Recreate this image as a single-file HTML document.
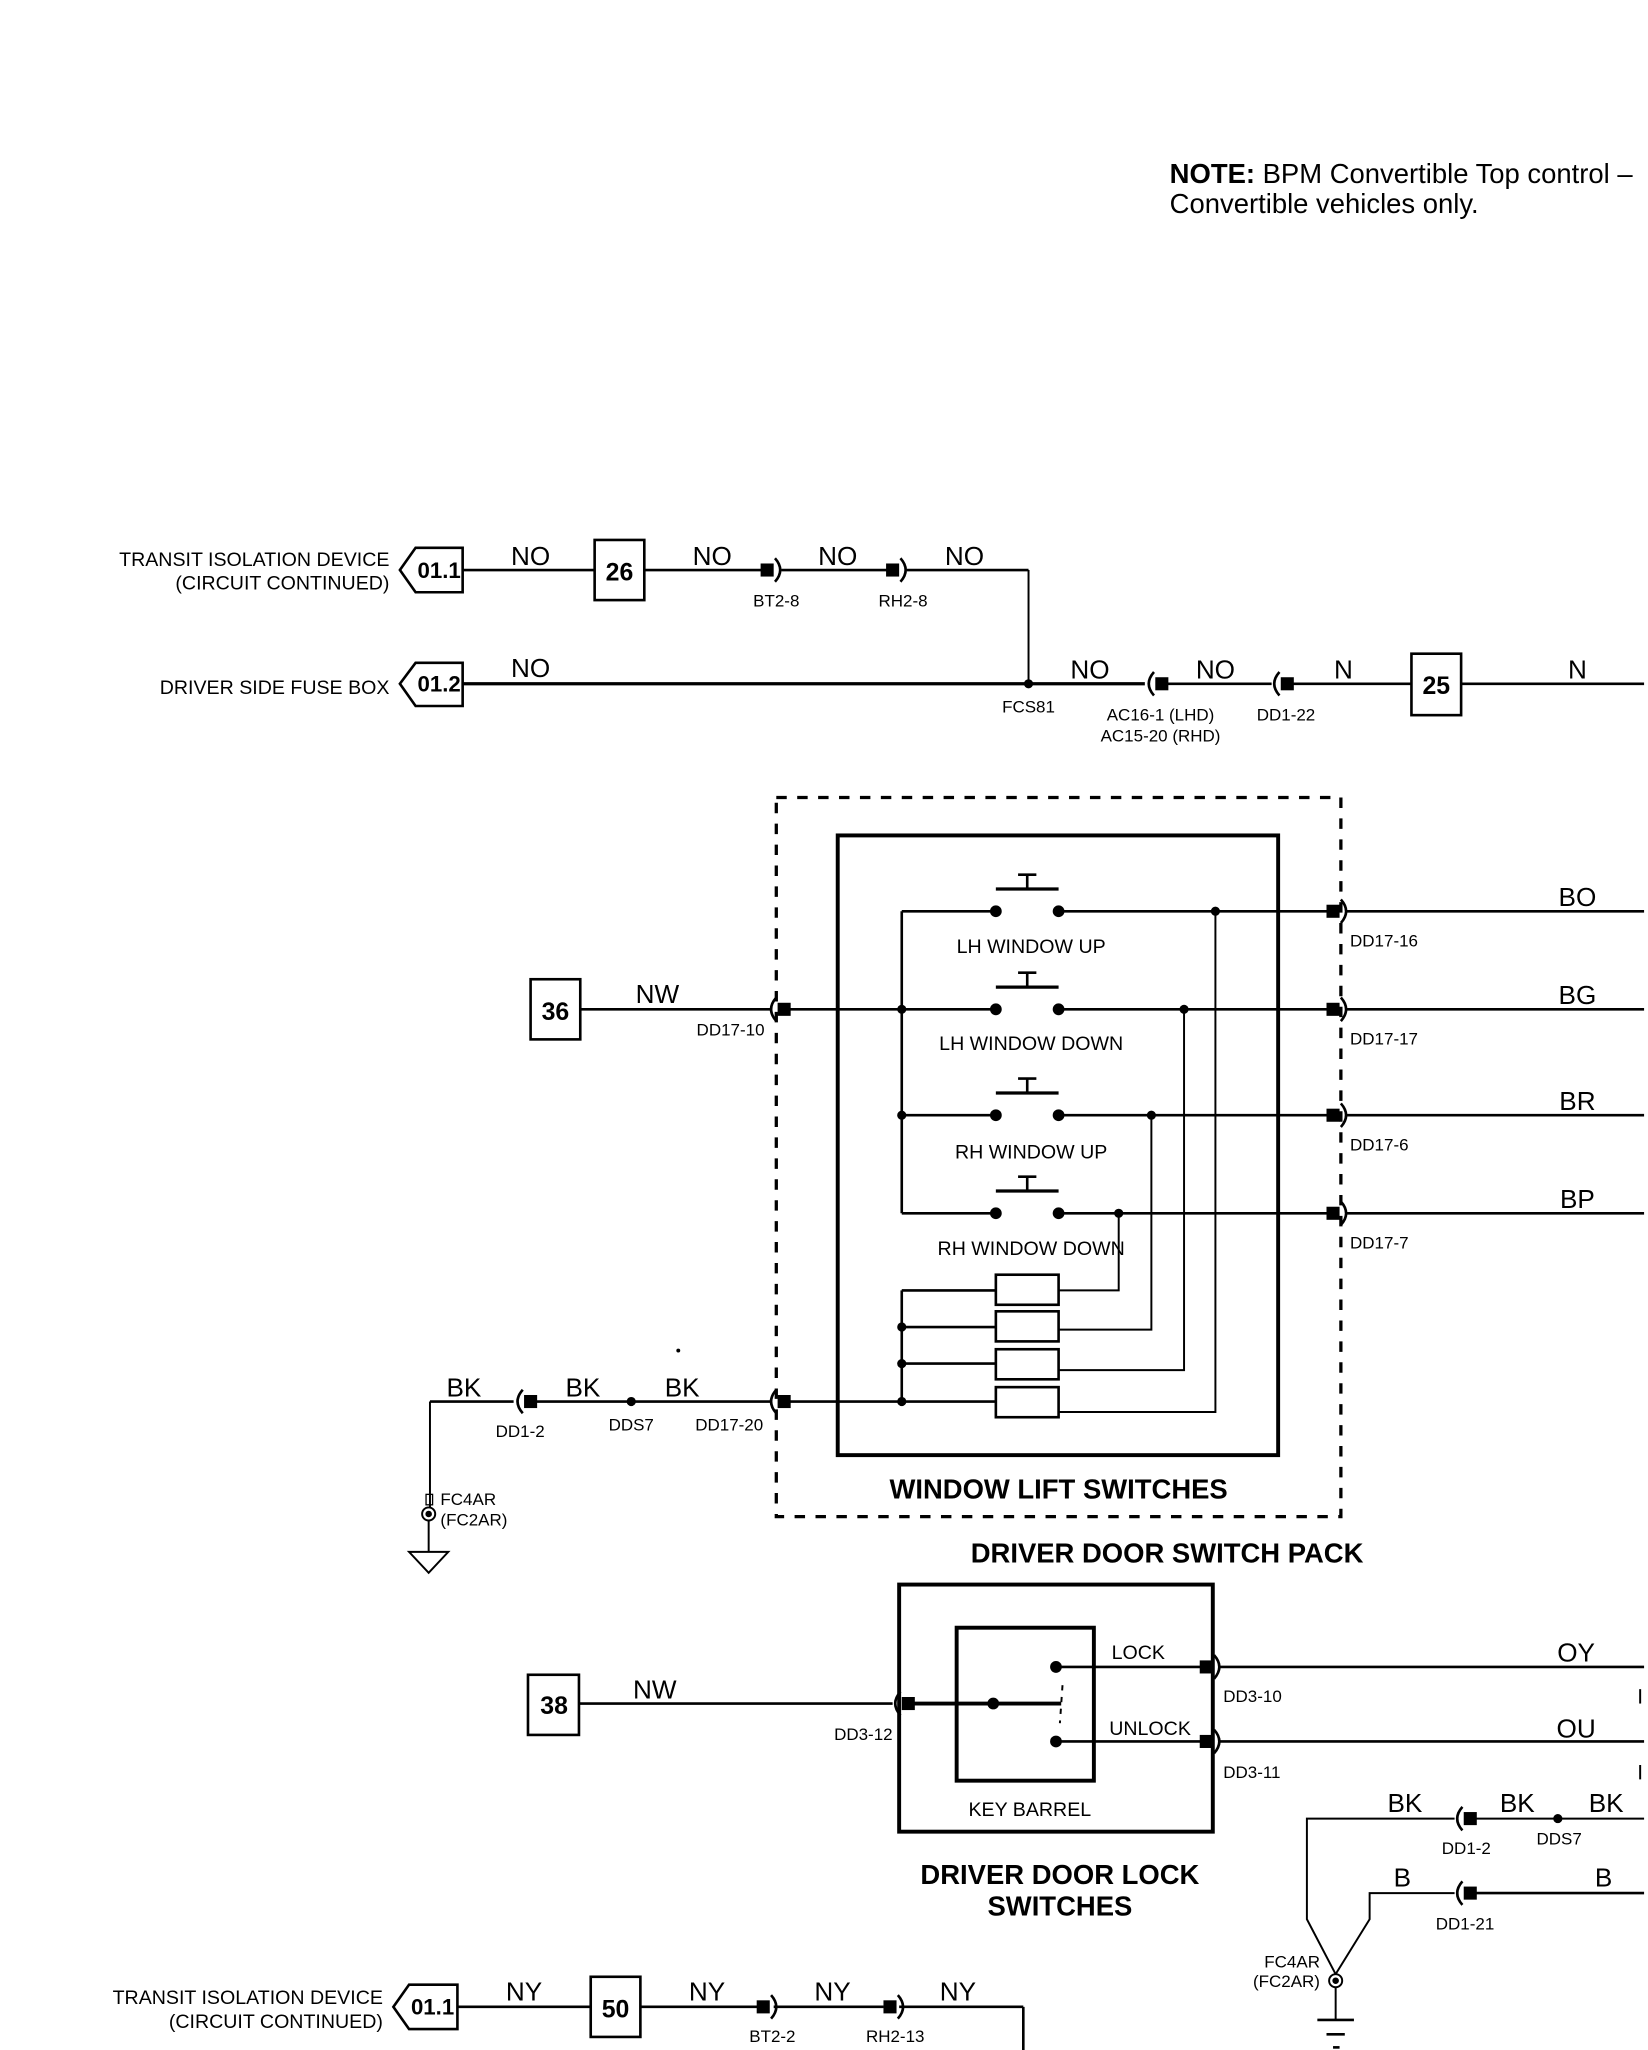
<!DOCTYPE html>
<html><head><meta charset="utf-8"><style>
html,body{margin:0;padding:0;background:#fff;}
svg{display:block;}
text{font-family:"Liberation Sans Narrow","Liberation Sans",sans-serif;fill:#000;}
.s{font-size:13px;}.m{font-size:15px;}.w{font-size:20px;}.b{font-weight:bold;}
</style></head><body>
<svg width="1648" height="2050" viewBox="0 0 1261 1568" preserveAspectRatio="none" xmlns="http://www.w3.org/2000/svg">
<defs>
<g id="cr"><rect x="-5" y="-5" width="10" height="10" fill="#000"/><path d="M6,-9 Q14,0 6,9" fill="none" stroke="#000" stroke-width="2"/></g>
<g id="cl"><rect x="-5" y="-5" width="10" height="10" fill="#000"/><path d="M-6,-9 Q-14,0 -6,9" fill="none" stroke="#000" stroke-width="2"/></g>
<g id="btn"><line x1="-24" y1="-17" x2="24" y2="-17" stroke="#000" stroke-width="2.5"/><line x1="0" y1="-17" x2="0" y2="-28" stroke="#000" stroke-width="2"/><line x1="-7" y1="-28" x2="7" y2="-28" stroke="#000" stroke-width="2"/><circle cx="-24" cy="0" r="4.5"/><circle cx="24" cy="0" r="4.5"/></g>
</defs>
<text x="895" y="140" style="font-size:21px"><tspan font-weight="bold">NOTE:</tspan> BPM Convertible Top control –</text>
<text x="895" y="163" style="font-size:21px">Convertible vehicles only.</text>

<g stroke="#000" stroke-width="2" fill="none">
<polygon points="306,436 318,419 354,419 354,453 318,453"/>
<line x1="354" y1="436" x2="455" y2="436"/>
<rect x="455" y="413" width="38" height="46"/>
<line x1="493" y1="436" x2="585" y2="436"/>
<line x1="598" y1="436" x2="681" y2="436"/>
<line x1="694" y1="436" x2="787" y2="436"/>
<line x1="787" y1="436" x2="787" y2="523" stroke-width="1.5"/>
<polygon points="306,523 318,507 354,507 354,540 318,540"/>
<line x1="354" y1="523" x2="876" y2="523" stroke-width="2.5"/>
<line x1="890" y1="523" x2="973" y2="523"/>
<line x1="985" y1="523" x2="1080" y2="523"/>
<rect x="1080" y="500" width="38" height="47"/>
<line x1="1118" y1="523" x2="1258" y2="523"/>
<rect x="594" y="610" width="432" height="550" stroke-dasharray="8,8" stroke-width="2.5"/>
<rect x="641" y="639" width="337" height="474" stroke-width="3"/>
<rect x="406" y="749" width="38" height="46"/>
<line x1="444" y1="772" x2="590" y2="772"/>
<line x1="598" y1="772" x2="762" y2="772"/>
<line x1="690" y1="697" x2="690" y2="928"/>
<line x1="690" y1="697" x2="762" y2="697"/>
<line x1="690" y1="853" x2="762" y2="853"/>
<line x1="690" y1="928" x2="762" y2="928"/>
<line x1="810" y1="697" x2="1020" y2="697"/>
<line x1="810" y1="772" x2="1020" y2="772"/>
<line x1="810" y1="853" x2="1020" y2="853"/>
<line x1="810" y1="928" x2="1020" y2="928"/>
<line x1="1030" y1="697" x2="1258" y2="697"/>
<line x1="1030" y1="772" x2="1258" y2="772"/>
<line x1="1030" y1="853" x2="1258" y2="853"/>
<line x1="1030" y1="928" x2="1258" y2="928"/>
<polyline points="930,697 930,1080 810,1080" stroke-width="1.5"/>
<polyline points="906,772 906,1048 810,1048" stroke-width="1.5"/>
<polyline points="881,853 881,1017 810,1017" stroke-width="1.5"/>
<polyline points="856,928 856,987 810,987" stroke-width="1.5"/>
<rect x="762" y="975" width="48" height="23"/>
<rect x="762" y="1003" width="48" height="23"/>
<rect x="762" y="1032" width="48" height="23"/>
<rect x="762" y="1061" width="48" height="23"/>
<line x1="690" y1="987" x2="690" y2="1072"/>
<line x1="690" y1="987" x2="762" y2="987"/>
<line x1="690" y1="1015" x2="762" y2="1015"/>
<line x1="690" y1="1043" x2="762" y2="1043"/>
<line x1="598" y1="1072" x2="762" y2="1072"/>
<line x1="329" y1="1072" x2="393" y2="1072"/>
<line x1="405" y1="1072" x2="590" y2="1072"/>
<line x1="329" y1="1072" x2="329" y2="1153" stroke-width="1.5"/>
<rect x="326" y="1143" width="5" height="8" stroke-width="1"/>
<circle cx="328" cy="1158" r="5" stroke-width="1.5"/>
<line x1="328" y1="1163" x2="328" y2="1187" stroke-width="1.5"/>
<polygon points="313,1187 343,1187 328,1203" stroke-width="1.5"/>
<rect x="688" y="1212" width="240" height="189" stroke-width="3"/>
<rect x="732" y="1245" width="105" height="117" stroke-width="3"/>
<rect x="404" y="1281" width="39" height="46"/>
<line x1="443" y1="1303" x2="683" y2="1303"/>
<line x1="695" y1="1303" x2="812" y2="1303" stroke-width="3"/>
<line x1="813" y1="1289" x2="811" y2="1318" stroke-dasharray="4,5" stroke-width="1.5"/>
<line x1="808" y1="1275" x2="920" y2="1275"/>
<line x1="808" y1="1332" x2="920" y2="1332"/>
<line x1="932" y1="1275" x2="1258" y2="1275"/>
<line x1="932" y1="1332" x2="1258" y2="1332"/>
<line x1="1255" y1="1292" x2="1255" y2="1303" stroke-width="1.5"/>
<line x1="1255" y1="1350" x2="1255" y2="1361" stroke-width="1.5"/>
<polyline points="1113,1391 1000,1391 1000,1468 1022,1510" stroke-width="1.5"/>
<polyline points="1113,1448 1048,1448 1048,1468 1022,1510" stroke-width="1.5"/>
<line x1="1125" y1="1391" x2="1258" y2="1391" stroke-width="1.5"/>
<line x1="1125" y1="1448" x2="1258" y2="1448"/>
<circle cx="1022" cy="1515" r="5" stroke-width="1.5"/>
<line x1="1022" y1="1520" x2="1022" y2="1545" stroke-width="1.5"/>
<line x1="1008" y1="1545" x2="1036" y2="1545"/>
<line x1="1015" y1="1556" x2="1029" y2="1556"/>
<line x1="1020" y1="1566" x2="1025" y2="1566"/>
<polygon points="301,1535 313,1518 350,1518 350,1552 313,1552"/>
<line x1="350" y1="1535" x2="452" y2="1535"/>
<rect x="452" y="1512" width="38" height="46"/>
<line x1="490" y1="1535" x2="580" y2="1535"/>
<line x1="592" y1="1535" x2="676" y2="1535"/>
<line x1="688" y1="1535" x2="783" y2="1535"/>
<line x1="783" y1="1535" x2="783" y2="1568"/>
</g>

<use href="#cr" x="587" y="436"/><use href="#cr" x="683" y="436"/>
<use href="#cl" x="889" y="523"/><use href="#cl" x="985" y="523"/>
<use href="#cl" x="600" y="772"/><use href="#cl" x="600" y="1072"/>
<use href="#cl" x="406" y="1072"/>
<use href="#cr" x="1020" y="697"/><use href="#cr" x="1020" y="772"/><use href="#cr" x="1020" y="853"/><use href="#cr" x="1020" y="928"/>
<use href="#cr" x="923" y="1275"/><use href="#cr" x="923" y="1332"/><use href="#cl" x="695" y="1303"/>
<use href="#cl" x="1125" y="1391"/><use href="#cl" x="1125" y="1448"/>
<use href="#cr" x="584" y="1535"/><use href="#cr" x="681" y="1535"/>
<use href="#btn" x="786" y="697"/><use href="#btn" x="786" y="772"/><use href="#btn" x="786" y="853"/><use href="#btn" x="786" y="928"/>
<g fill="#000">
<circle cx="787" cy="523" r="3.5"/>
<circle cx="690" cy="772" r="3.5"/><circle cx="690" cy="853" r="3.5"/>
<circle cx="930" cy="697" r="3.5"/><circle cx="906" cy="772" r="3.5"/><circle cx="881" cy="853" r="3.5"/><circle cx="856" cy="928" r="3.5"/>
<circle cx="690" cy="1015" r="3.5"/><circle cx="690" cy="1043" r="3.5"/><circle cx="690" cy="1072" r="3.5"/>
<circle cx="483" cy="1072" r="3.5"/><circle cx="519" cy="1033" r="1.5"/><circle cx="328" cy="1158" r="2.5"/>
<circle cx="808" cy="1275" r="4.5"/><circle cx="808" cy="1332" r="4.5"/><circle cx="760" cy="1303" r="4.5"/>
<circle cx="1192" cy="1391" r="3.5"/><circle cx="1022" cy="1515" r="2.5"/>
</g>

<text x="298" y="433" class="m" text-anchor="end">TRANSIT ISOLATION DEVICE</text>
<text x="298" y="451" class="m" text-anchor="end">(CIRCUIT CONTINUED)</text>
<text x="336" y="442" class="m b" text-anchor="middle" style="font-size:17px">01.1</text>
<text x="406" y="432" class="w" text-anchor="middle">NO</text>
<text x="474" y="444" class="b" text-anchor="middle" style="font-size:19px">26</text>
<text x="545" y="432" class="w" text-anchor="middle">NO</text>
<text x="641" y="432" class="w" text-anchor="middle">NO</text>
<text x="738" y="432" class="w" text-anchor="middle">NO</text>
<text x="594" y="464" class="s" text-anchor="middle">BT2-8</text>
<text x="691" y="464" class="s" text-anchor="middle">RH2-8</text>
<text x="298" y="531" class="m" text-anchor="end">DRIVER SIDE FUSE BOX</text>
<text x="336" y="529" class="b" text-anchor="middle" style="font-size:17px">01.2</text>
<text x="406" y="518" class="w" text-anchor="middle">NO</text>
<text x="787" y="545" class="s" text-anchor="middle">FCS81</text>
<text x="834" y="519" class="w" text-anchor="middle">NO</text>
<text x="930" y="519" class="w" text-anchor="middle">NO</text>
<text x="1028" y="519" class="w" text-anchor="middle">N</text>
<text x="1207" y="519" class="w" text-anchor="middle">N</text>
<text x="888" y="551" class="s" text-anchor="middle">AC16-1 (LHD)</text>
<text x="888" y="567" class="s" text-anchor="middle">AC15-20 (RHD)</text>
<text x="984" y="551" class="s" text-anchor="middle">DD1-22</text>
<text x="1099" y="531" class="b" text-anchor="middle" style="font-size:19px">25</text>

<text x="425" y="780" class="b" text-anchor="middle" style="font-size:19px">36</text>
<text x="503" y="767" class="w" text-anchor="middle">NW</text>
<text x="585" y="792" class="s" text-anchor="end">DD17-10</text>
<text x="789" y="729" class="m" text-anchor="middle">LH WINDOW UP</text>
<text x="789" y="803" class="m" text-anchor="middle">LH WINDOW DOWN</text>
<text x="789" y="886" class="m" text-anchor="middle">RH WINDOW UP</text>
<text x="789" y="960" class="m" text-anchor="middle">RH WINDOW DOWN</text>
<text x="1207" y="693" class="w" text-anchor="middle">BO</text>
<text x="1207" y="768" class="w" text-anchor="middle">BG</text>
<text x="1207" y="849" class="w" text-anchor="middle">BR</text>
<text x="1207" y="924" class="w" text-anchor="middle">BP</text>
<text x="1033" y="724" class="s">DD17-16</text>
<text x="1033" y="799" class="s">DD17-17</text>
<text x="1033" y="880" class="s">DD17-6</text>
<text x="1033" y="955" class="s">DD17-7</text>
<text x="355" y="1068" class="w" text-anchor="middle">BK</text>
<text x="446" y="1068" class="w" text-anchor="middle">BK</text>
<text x="522" y="1068" class="w" text-anchor="middle">BK</text>
<text x="398" y="1099" class="s" text-anchor="middle">DD1-2</text>
<text x="483" y="1094" class="s" text-anchor="middle">DDS7</text>
<text x="584" y="1094" class="s" text-anchor="end">DD17-20</text>
<text x="337" y="1151" class="s">FC4AR</text>
<text x="337" y="1167" class="s">(FC2AR)</text>
<text x="810" y="1146" class="b" text-anchor="middle" style="font-size:21px">WINDOW LIFT SWITCHES</text>
<text x="893" y="1195" class="b" text-anchor="middle" style="font-size:21px">DRIVER DOOR SWITCH PACK</text>

<text x="424" y="1311" class="b" text-anchor="middle" style="font-size:19px">38</text>
<text x="501" y="1299" class="w" text-anchor="middle">NW</text>
<text x="683" y="1331" class="s" text-anchor="end">DD3-12</text>
<text x="871" y="1269" class="m" text-anchor="middle">LOCK</text>
<text x="880" y="1327" class="m" text-anchor="middle">UNLOCK</text>
<text x="788" y="1389" class="m" text-anchor="middle">KEY BARREL</text>
<text x="936" y="1302" class="s">DD3-10</text>
<text x="936" y="1360" class="s">DD3-11</text>
<text x="1206" y="1271" class="w" text-anchor="middle">OY</text>
<text x="1206" y="1329" class="w" text-anchor="middle">OU</text>
<text x="811" y="1441" class="b" text-anchor="middle" style="font-size:21px">DRIVER DOOR LOCK</text>
<text x="811" y="1465" class="b" text-anchor="middle" style="font-size:21px">SWITCHES</text>
<text x="1075" y="1386" class="w" text-anchor="middle">BK</text>
<text x="1161" y="1386" class="w" text-anchor="middle">BK</text>
<text x="1229" y="1386" class="w" text-anchor="middle">BK</text>
<text x="1122" y="1418" class="s" text-anchor="middle">DD1-2</text>
<text x="1193" y="1411" class="s" text-anchor="middle">DDS7</text>
<text x="1073" y="1443" class="w" text-anchor="middle">B</text>
<text x="1227" y="1443" class="w" text-anchor="middle">B</text>
<text x="1121" y="1476" class="s" text-anchor="middle">DD1-21</text>
<text x="1010" y="1505" class="s" text-anchor="end">FC4AR</text>
<text x="1010" y="1520" class="s" text-anchor="end">(FC2AR)</text>

<text x="293" y="1533" class="m" text-anchor="end">TRANSIT ISOLATION DEVICE</text>
<text x="293" y="1551" class="m" text-anchor="end">(CIRCUIT CONTINUED)</text>
<text x="331" y="1541" class="b" text-anchor="middle" style="font-size:17px">01.1</text>
<text x="401" y="1530" class="w" text-anchor="middle">NY</text>
<text x="471" y="1543" class="b" text-anchor="middle" style="font-size:19px">50</text>
<text x="541" y="1530" class="w" text-anchor="middle">NY</text>
<text x="637" y="1530" class="w" text-anchor="middle">NY</text>
<text x="733" y="1530" class="w" text-anchor="middle">NY</text>
<text x="591" y="1562" class="s" text-anchor="middle">BT2-2</text>
<text x="685" y="1562" class="s" text-anchor="middle">RH2-13</text>
</svg>
</body></html>
